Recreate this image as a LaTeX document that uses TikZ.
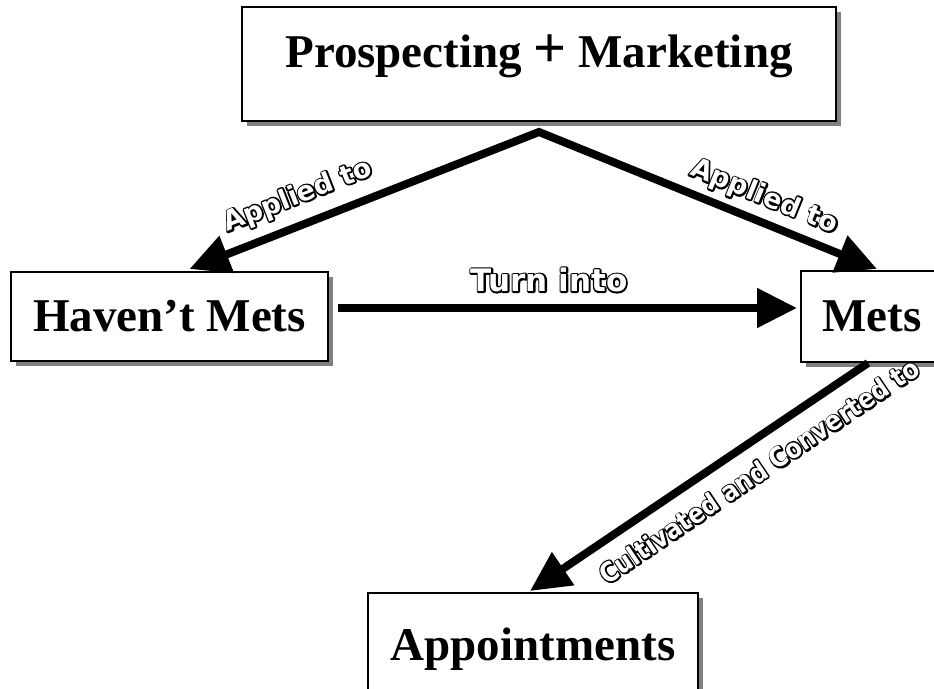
\documentclass[tikz,border=0pt]{standalone}
\usepackage{fontspec}
\setmainfont{Liberation Serif}
\newfontfamily\labelfont{DejaVu Sans}
\usepackage{graphicx}
\usetikzlibrary{arrows.meta,shadows,positioning}

\tikzset{
  bigtip/.tip={Triangle[length=40pt,width=38pt]},
  stage/.style={draw, line width=2pt, fill=white, inner sep=0pt,
    drop shadow={shadow xshift=5pt, shadow yshift=-5pt, fill=black!50, opacity=1},
    font=\fontsize{47}{50}\selectfont\bfseries},
  flow/.style={line width=8pt, -bigtip},
  tag/.style={sloped, inner sep=0pt, font=\labelfont\bfseries\fontsize{27}{27}\selectfont}
}
% outlined (hollow) lettering: black stroked copy under a white one
\newcommand{\hollow}[1]{\makebox[0pt][l]{\special{pdf:literal direct 2 Tr 3.2 w 1 j}#1\special{pdf:literal direct 0 Tr}}\textcolor{white}{#1}}

\begin{document}
\begin{tikzpicture}[x=1pt,y=-1pt]
\useasboundingbox (0,0) rectangle (934,688);

%% stages
\node[stage, minimum width=594pt, minimum height=114pt](prospect) at (539,64){\raisebox{8pt}[\height][\depth]{Prospecting {\fontsize{58}{58}\selectfont +} Marketing}};
\node[stage, minimum width=317pt, minimum height=89pt](haven) at (169.5,316.5){Haven’t Mets};
\node[stage, minimum width=142pt, minimum height=91pt](mets) at (872,316.5){Mets};
\node[stage, minimum width=330pt, minimum height=112pt](appt) at (533,649){Appointments};

%% connector ends
\coordinate[below=10pt of prospect.south](apex);
\coordinate (haven_in) at ([xshift=20pt,yshift=2pt]haven.north);
\coordinate (mets_in) at ([xshift=5pt,yshift=1pt]mets.north);
\coordinate (haven_out) at ([xshift=9pt,yshift=8.5pt]haven.east);
\coordinate (mets_w) at ([xshift=-3pt,yshift=8.5pt]mets.west);
\coordinate (mets_out) at ([xshift=-4pt]mets.south);
\coordinate (appt_in) at ([xshift=-3pt,yshift=1pt]appt.north);

%% applied to both groups
\draw[line width=8pt, line join=miter, bigtip-bigtip] (haven_in)
  -- node[tag, above=11pt, pos=0.34]{\hollow{Applied to}} (apex)
  -- node[tag, above=7pt, pos=0.64]{\hollow{Applied to}} (mets_in);

\draw[flow] (haven_out) -- node[tag, above=12pt, pos=0.46, font=\labelfont\bfseries\fontsize{31}{31}\selectfont]{\hollow{Turn into}} (mets_w);

\draw[flow] (mets_out) -- node[tag, below=14pt, pos=0.37]{\scalebox{0.88}[1]{\hollow{Cultivated and Converted to}}} (appt_in);

\end{tikzpicture}
\end{document}
